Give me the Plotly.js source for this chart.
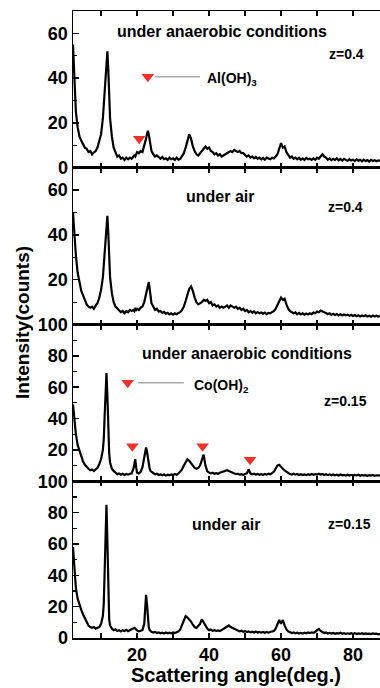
<!DOCTYPE html>
<html><head><meta charset="utf-8">
<script src="https://cdn.plot.ly/plotly-3.0.1.min.js"></script>
<style>html,body{margin:0;padding:0;background:#fff}#chart{width:380px;height:688px}</style>
</head><body><div id="chart"></div>
<script>
// Scattering angle grid (deg.)
const angle = [
 2.2,2.5,3,3.5,4,4.5,5,5.5,6,6.5,7,7.5,8,8.5,9,9.5,10,10.5,
 10.75,11,11.25,11.5,11.75,12,12.25,12.5,
 13,13.5,14,14.5,15,15.5,16,16.5,17,17.5,18,18.5,19,
 19.25,19.5,19.75,20,
 20.5,21,21.5,22,
 22.25,22.5,22.75,23,23.25,23.5,23.75,24,
 24.5,25,25.5,26,26.5,27,27.5,28,28.5,29,
 29.5,30,30.5,31,31.5,32,32.5,33,33.5,34,
 34.5,35,35.5,36,36.5,37,37.5,38,38.5,39,
 39.5,40,40.5,41,41.5,42,42.5,43,43.5,44,
 44.5,45,45.5,46,46.5,47,47.5,48,48.5,49,
 49.5,50,50.5,51,51.5,52,52.5,53,53.5,54,
 54.5,55,55.5,56,56.5,57,57.5,58,58.5,59,
 59.5,60,60.5,61,61.5,62,62.5,63,63.5,64,
 64.5,65,65.5,66,66.5,67,67.5,68,68.5,69,
 69.5,70,70.5,71,71.5,72,72.5,73,73.5,74,
 74.5,75,75.5,76,76.5,77,77.5,78,78.5,79,
 79.5,80,80.5,81,81.5,82,82.5,83,83.5,84,
 84.5,85,85.5,86,86.5,87,87.5
];
// z=0.4, under anaerobic conditions
const z04Anaerobic = [
 55,40,25,18,14,12,10.5,9,8.5,7,7.5,6,6.8,7.5,9,11.5,15,22,
 28,36,45,50,52,44,32,22,
 14,9,7,5,5.5,4,4.5,3.5,4.5,3.8,4.5,4,5,
 5.5,5,6.5,7,
 6.5,7.5,7,9.5,
 11,13,15,16.5,15,12,9,7.5,
 6,5,5.5,4.5,4,4.8,3.8,4.2,3.5,4.5,
 3.8,4.2,3.5,4.5,3.6,4,5,6.5,9,12,
 15,13,9.5,7.5,6,5.5,6.5,7,8.5,9.5,
 8.5,9,7.5,7,6,6.5,5.5,6,5,5.5,
 6,6.5,7,7.5,7,8,7.5,7,7.5,6.5,
 6.5,5.5,5,5.5,4.5,5,4.2,4.8,4,4.5,
 3.8,4.4,3.6,4.5,4,3.8,4.5,4.2,5,6,
 8.5,11,9,9.5,7,5.5,4.5,5,4,4.5,
 3.8,4.5,3.6,4.2,3.5,4.4,3.8,4,3.5,4.2,
 3.6,4.5,4,5,6,5,4.5,3.6,4.2,3.4,
 4,3.5,4.2,3.3,3.9,3.2,4,3.5,3.1,3.8,
 3.2,3.6,3,3.8,3.1,3.5,2.9,3.6,3,3.4,
 2.8,3.5,3,3.4,2.9,3.3,3
];
// z=0.4, under air
const z04Air = [
 50,42,31,23,18,15,13,11,9,8,7.5,8,7,8.5,9.5,12,15.5,21,
 27,34,41,46,48.5,41,30,21,
 14,10,8,7,6.5,5.5,6,5,6,5.5,6.5,6,6.5,
 6,7,6.5,7,
 6.5,7.5,8,10,
 12,14,16.5,18.5,19,16,12,9.5,
 8,6.5,7,5.8,6,5.2,5.6,4.8,5.2,4.5,
 5,4.4,5,4.6,5.2,5.5,6.5,8,10.5,13.5,
 16,17,15,12,10,9,9.5,10,11,10.5,
 11,9.5,10,8.5,9,8,8.5,7.5,8,7.5,
 8,8.5,7.5,8.5,8,7.5,8,7,7.5,6.5,
 7,6,6.5,5.5,6,5.2,5.8,5,5.5,5,
 5.4,4.8,5.3,4.6,5.2,5,5.5,6,7,8.5,
 10.5,12,11,11.5,9,7,6,5.5,5,5.4,
 4.6,5.2,4.5,5,4.4,4.9,4.5,5,4.6,5.3,
 5,5.8,5.5,6.2,6,5.5,5.2,4.6,5,4.4,
 4.8,4.3,4.7,4.1,4.6,4,4.5,4.1,4.4,3.9,
 4.3,3.8,4.2,3.7,4.1,3.6,4,3.7,4.1,3.6,
 3.9,3.5,4,3.6,3.9,3.5,3.8
];
// z=0.15, under anaerobic conditions
const z015Anaerobic = [
 49,40,30,23,19,15,12.5,10.5,9,8,7,7.5,6.5,7.5,8.5,11,14,20,
 27,42,60,69,55,32,18,12,
 8,6.5,5.5,4.5,5,4.2,4.8,4,4.6,4.2,4.8,5,8,
 13,14,9,5.5,
 5,6,9,16,
 20,21.5,19,14,10,8,6.5,6,
 5,4.5,4.8,4,4.4,3.8,4.3,3.6,4.2,3.8,
 4.4,4,4.6,4.2,5,6,7.5,10,12.5,14,
 13,11.5,10,8.5,8,8.5,10,14,17,10,
 6.5,5.5,5,5.4,4.8,5.2,4.7,5.5,6,6.5,
 7,7,6.5,6,5.5,5,4.5,4.8,4.2,4.5,
 4,4.6,5,7.5,5,4.4,4.8,4.2,4.6,4.1,
 4.5,4,4.6,4.2,4.8,4.4,5,6,8,10,
 10.5,9,8,7,6,5,4.6,4.2,4.8,4.2,
 4.6,4,4.5,4,4.4,3.9,4.5,4,4.6,4.1,
 4.5,4.2,4.8,4.3,4.6,4,4.5,3.9,4.4,3.8,
 4.3,3.8,4.2,3.7,4.3,3.8,4.1,3.6,4.2,3.7,
 4.1,3.6,4,3.7,4.1,3.5,4,3.6,3.9,3.5,
 3.9,3.6,4,3.5,3.8,3.6,3.9
];
// z=0.15, under air
const z015Air = [
 58,46,32,25,21,18,15,12.5,10.5,8,7,6.5,7,6,6.5,7,9,14,
 22,45,75,85,62,28,12,8,
 6,5,5.5,4.5,5,4.2,5,4.5,5.2,4.4,5,5.5,6,
 6.5,6,5,4.8,
 4.2,4.6,5,9,
 18,27.5,22,12,7,5,4.2,4,
 3.5,3.8,3.2,3.6,3,3.4,2.9,3.5,3,3.4,
 3,3.6,3.2,3.8,4.2,5.5,8,11,14,13,
 12,10.5,8.5,7,6.5,7.5,9,12,10,7.5,
 6,5,5.4,4.6,5,4.5,4.8,4.4,5.2,6,
 6.5,7.5,8,7,6.5,5.5,5,4.5,4.2,4.6,
 4,4.4,3.8,4.2,3.6,4,3.5,4.1,3.5,3.9,
 3.4,3.8,3.3,3.9,3.4,3.8,4,4.5,6,9,
 11.5,9,11.5,8,5.5,4.2,3.6,3.2,3.6,3,
 3.4,2.9,3.3,2.8,3.4,3,3.5,3.1,3.6,3.3,
 4,5,5.8,4.5,3.6,3.2,3.5,2.9,3.3,2.8,
 3.2,2.7,3.1,2.8,3.3,2.7,3.1,2.6,3,2.7,
 3.1,2.6,3,2.5,2.9,2.6,3,2.5,2.9,2.6,
 2.8,2.5,2.9,2.6,2.8,2.4,2.7
];
// marker (peak) positions
const alMarkX = [20.6], alMarkY = [13];
const alLegendX = [23], alLegendY = [40.6];
const coMarkX = [18.7, 38.2, 51.4], coMarkY = [22.4, 22.4, 13.7];
const coLegendX = [17.4], coLegendY = [62.8];
// tick labels
const xTickVals = [20, 40, 60, 80];
const yTicksP1 = [0, 20, 40, 60];
const yTicksP2 = [20, 40, 60];
const yTicksP3 = [20, 40, 60, 80, 100];
const yTicksP4 = [0, 20, 40, 60, 80, 100];
const panelLabels = ['under anaerobic conditions', 'under air', 'under anaerobic conditions', 'under air'];
const zLabels = ['z=0.4', 'z=0.4', 'z=0.15', 'z=0.15'];

const FONT = 'Arial, "Liberation Sans", sans-serif';
const lineStyle = {color: '#000', width: 2.2};
const red = '#f0302a';

const traces = [
  {x: angle, y: z04Anaerobic, xaxis: 'x4', yaxis: 'y4', mode: 'lines', line: lineStyle},
  {x: angle, y: z04Air, xaxis: 'x3', yaxis: 'y3', mode: 'lines', line: lineStyle},
  {x: angle, y: z015Anaerobic, xaxis: 'x2', yaxis: 'y2', mode: 'lines', line: lineStyle},
  {x: angle, y: z015Air, xaxis: 'x', yaxis: 'y', mode: 'lines', line: lineStyle},
  {x: alMarkX.concat(alLegendX), y: alMarkY.concat(alLegendY), xaxis: 'x4', yaxis: 'y4', mode: 'markers',
   marker: {symbol: 'triangle-down', size: 11, color: red}},
  {x: coMarkX.concat(coLegendX), y: coMarkY.concat(coLegendY), xaxis: 'x2', yaxis: 'y2', mode: 'markers',
   marker: {symbol: 'triangle-down', size: 11, color: red}}
];

function xax(showLabels, anchor) {
  return {
    range: [2.2, 87.5], anchor: anchor, showline: true, linecolor: '#000', linewidth: 1.5,
    mirror: 'ticks', ticks: 'inside', ticklen: 5, tickwidth: 1.5, tickcolor: '#000',
    tickmode: 'array', tickvals: xTickVals, showticklabels: showLabels,
    tickfont: {family: FONT, size: 18, color: '#000', weight: 'bold'},
    minor: {dtick: 10, tick0: 0, ticks: 'inside', ticklen: 5, tickwidth: 1.5, tickcolor: '#000'},
    showgrid: false, zeroline: false, fixedrange: true
  };
}
function yax(range, ticks, domain, anchor) {
  return {
    range: range, domain: domain, anchor: anchor, showline: true, linecolor: '#000', linewidth: 1.5,
    ticks: 'inside', ticklen: 6, tickwidth: 1.5, tickcolor: '#000',
    tickmode: 'array', tickvals: ticks,
    tickfont: {family: FONT, size: 18, color: '#000', weight: 'bold'},
    minor: {dtick: 10, tick0: 0, ticks: 'inside', ticklen: 4, tickwidth: 1.2, tickcolor: '#000'},
    showgrid: false, zeroline: false, fixedrange: true
  };
}

function ann(text, x, y, xref, yref, size, anchor) {
  return {text: '<b>' + text + '</b>', x: x, y: y, xref: xref, yref: yref, showarrow: false,
    xanchor: anchor || 'center', yanchor: 'middle',
    font: {family: FONT, size: size, color: '#000'}};
}

const layout = {
  width: 380, height: 688, margin: {l: 73, r: 0, t: 11, b: 50},
  paper_bgcolor: '#fff', plot_bgcolor: 'rgba(0,0,0,0)', showlegend: false,
  font: {family: FONT, color: '#000'},
  xaxis: xax(true, 'y'), xaxis2: xax(false, 'y2'), xaxis3: xax(false, 'y3'), xaxis4: xax(false, 'y4'),
  yaxis: yax([0, 100], yTicksP4, [0, 0.25], 'x'),
  yaxis2: yax([0, 100], yTicksP3, [0.25, 0.5], 'x2'),
  yaxis3: yax([0, 70], yTicksP2, [0.5, 0.75], 'x3'),
  yaxis4: yax([0, 70], yTicksP1, [0.75, 1], 'x4'),
  shapes: [
    {type: 'line', xref: 'x4', yref: 'y4', x0: 25, x1: 37.5, y0: 40.6, y1: 40.6, line: {color: '#aaaaaa', width: 1.5}},
    {type: 'line', xref: 'x2', yref: 'y2', x0: 20.3, x1: 33, y0: 62.8, y1: 62.8, line: {color: '#aaaaaa', width: 1.5}}
  ],
  annotations: [
    ann(panelLabels[0], 43.6, 60.7, 'x4', 'y4', 16),
    ann(zLabels[0], 78.2, 51, 'x4', 'y4', 14),
    ann('Al(OH)<sub>3</sub>', 38.9, 39.5, 'x4', 'y4', 14, 'left'),
    ann(panelLabels[1], 43, 57, 'x3', 'y3', 16),
    ann(zLabels[1], 78, 52.5, 'x3', 'y3', 14),
    ann(panelLabels[2], 50.6, 81.7, 'x2', 'y2', 16),
    ann(zLabels[2], 77.9, 51.2, 'x2', 'y2', 14),
    ann('Co(OH)<sub>2</sub>', 35.3, 61, 'x2', 'y2', 14, 'left'),
    ann(panelLabels[3], 44.6, 72.5, 'x', 'y', 16),
    ann(zLabels[3], 78.9, 72.5, 'x', 'y', 14),
    Object.assign(ann('Intensity(counts)', -0.165, 0.503, 'paper', 'paper', 19), {textangle: -90}),
    ann('Scattering angle(deg.)', 0.531, -0.0585, 'paper', 'paper', 20)
  ]
};

Plotly.newPlot('chart', traces, layout, {staticPlot: true, displayModeBar: false});
</script>
</body></html>
